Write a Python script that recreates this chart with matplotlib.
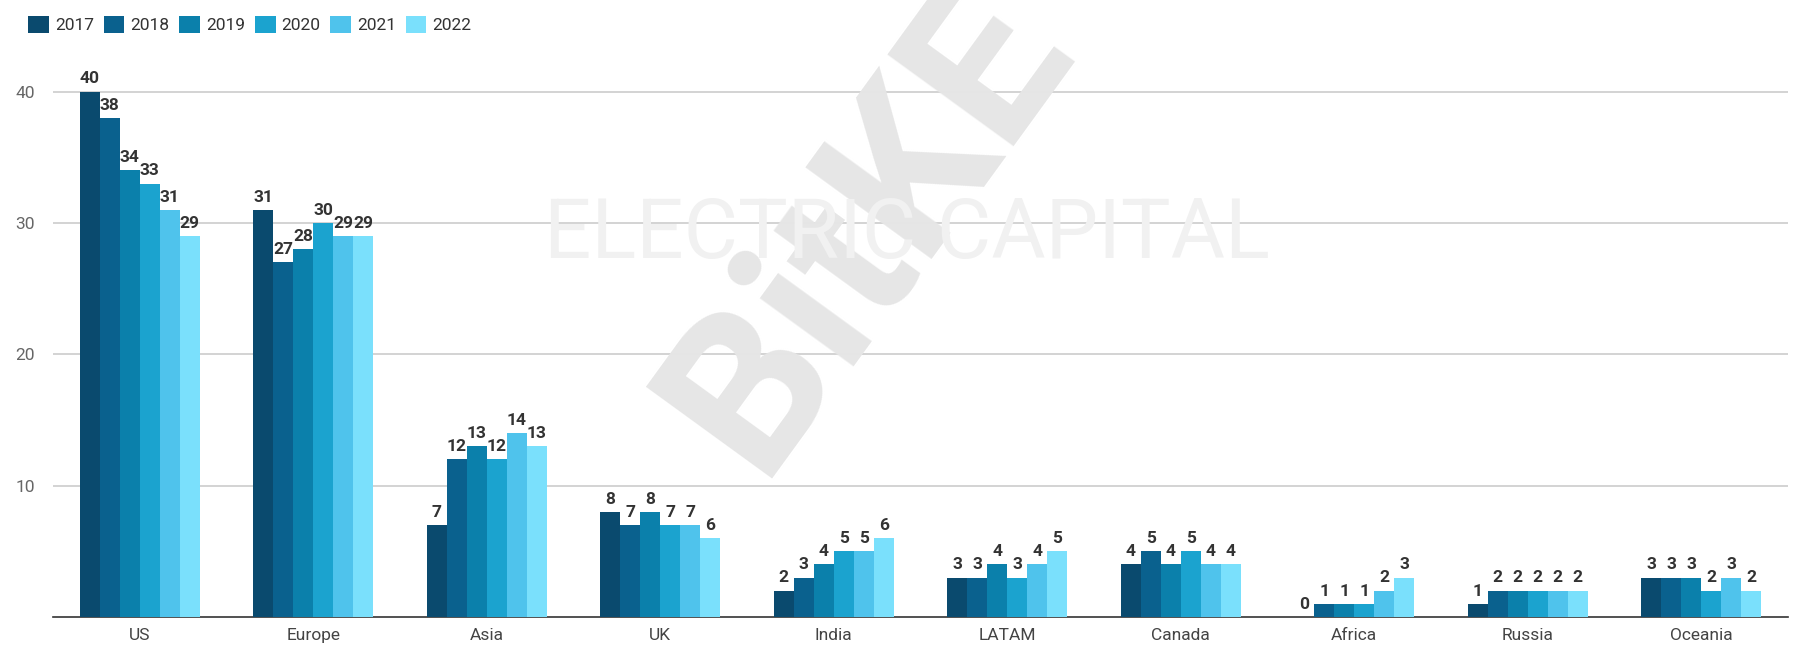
import matplotlib
matplotlib.use("Agg")
import matplotlib.pyplot as plt
import numpy as np

plt.rcParams['font.family'] = ['Roboto', 'DejaVu Sans']

regions = ["US", "Europe", "Asia", "UK", "India", "LATAM", "Canada", "Africa", "Russia", "Oceania"]
years = ["2017", "2018", "2019", "2020", "2021", "2022"]
v2017 = [40, 31, 7, 8, 2, 3, 4, 0, 1, 3]
v2018 = [38, 27, 12, 7, 3, 3, 5, 1, 2, 3]
v2019 = [34, 28, 13, 8, 4, 4, 4, 1, 2, 3]
v2020 = [33, 30, 12, 7, 5, 3, 5, 1, 2, 2]
v2021 = [31, 29, 14, 7, 5, 4, 4, 2, 2, 3]
v2022 = [29, 29, 13, 6, 6, 5, 4, 3, 2, 2]
series = [v2017, v2018, v2019, v2020, v2021, v2022]
colors = ["#0a4a6e", "#0a618e", "#0b80ab", "#1ba3cf", "#4fc3ec", "#7ae0fc"]
yticks = [10, 20, 30, 40]

fig = plt.figure(figsize=(17.97, 6.49), dpi=100)
ax = fig.add_axes([0.0295, 0.0493, 0.9655, 0.85])

# watermarks
fig.text(0.483, 0.65, "BitKE", fontsize=158, fontweight='bold', color='#e6e6e6',
         rotation=54, ha='center', va='center', zorder=0)
fig.text(0.5045, 0.638, "ELECTRIC CAPITAL", fontsize=60, color='#f1f1f1',
         ha='center', va='center', zorder=0)

x = np.arange(len(regions))
bw = 0.1153
for i, (vals, c, yr) in enumerate(zip(series, colors, years)):
    pos = x + (i - 2.5) * bw
    ax.bar(pos, vals, width=bw, color=c, label=yr, zorder=3, linewidth=0)
    for p, v in zip(pos, vals):
        ax.text(p, v + 0.4, str(v), ha='center', va='bottom', fontsize=12.5,
                fontweight='bold', color='#333333', zorder=4)

ax.set_xlim(-0.5, len(regions) - 0.5)
ax.set_ylim(0, 42)
ax.set_yticks(yticks)
ax.set_yticklabels([str(t) for t in yticks], color='#666666', fontsize=12.5)
ax.set_xticks(x)
ax.set_xticklabels(regions, color='#444444', fontsize=12.5)
ax.tick_params(axis='both', length=0, pad=8)
ax.tick_params(axis='y', pad=13)
ax.yaxis.grid(True, color='#cccccc', linewidth=1.2, zorder=0)
ax.set_axisbelow(True)
for s in ['top', 'right', 'left']:
    ax.spines[s].set_visible(False)
ax.spines['bottom'].set_color('#333333')
ax.spines['bottom'].set_linewidth(1.2)
ax.patch.set_alpha(0)

fig.legend(loc='upper left', bbox_to_anchor=(0.007, 1.0), ncol=6, frameon=False,
           fontsize=12.5, handlelength=1.2, handleheight=1.2, handletextpad=0.35,
           columnspacing=0.55, labelcolor='#333333')

fig.savefig("out.png", dpi=100)
